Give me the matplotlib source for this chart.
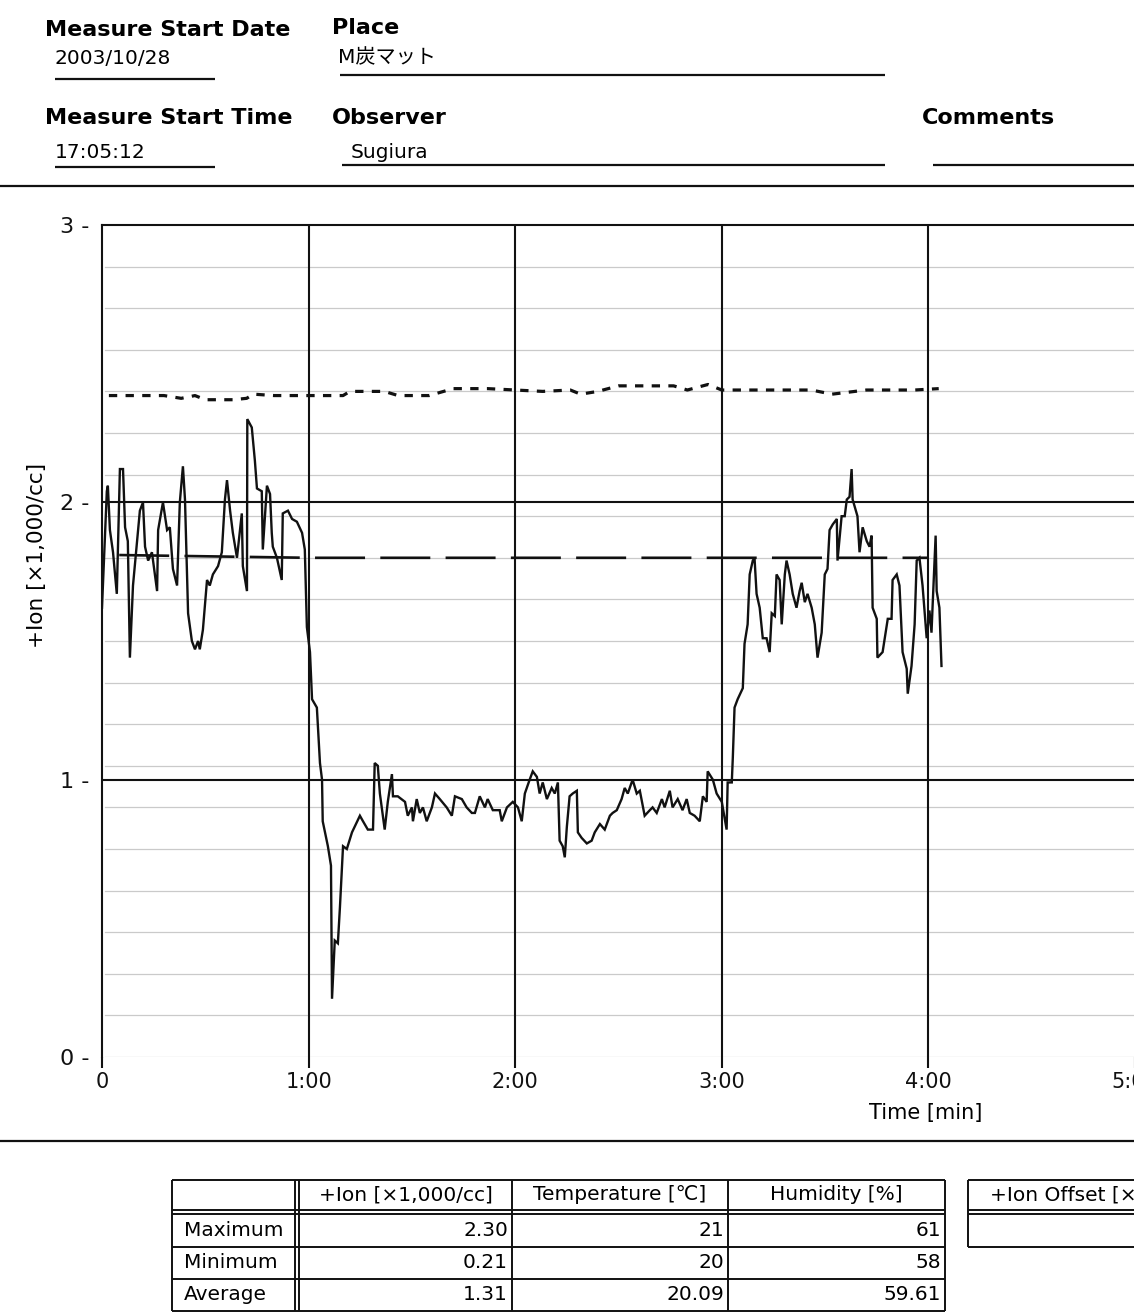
import matplotlib
matplotlib.use("Agg")
import matplotlib.pyplot as plt
import numpy as np

W, H = 1134, 1313

# +Ion trace: time [s], value [x1,000/cc]
ion_t = [
    0.0, 1.4, 1.7, 2.3, 3.2, 4.3, 5.2, 6.1, 6.7, 7.5,
    8.1, 9.0, 10.2, 11.0, 11.9, 12.5, 13.4, 14.5, 16.0, 16.3,
    17.7, 18.9, 19.7, 20.6, 21.8, 22.6, 23.5, 24.1, 25.0, 26.1,
    27.0, 27.9, 28.4, 29.3, 30.5, 31.3, 32.2, 33.7, 34.8, 35.7,
    36.3, 37.2, 38.0, 39.2, 40.6, 40.9, 42.1, 42.2, 43.5, 44.4,
    45.0, 46.4, 46.7, 47.9, 48.8, 49.3, 49.6, 50.8, 52.2, 52.5,
    54.0, 55.2, 56.6, 58.1, 58.9, 59.5, 60.4, 61.0, 62.4, 63.3,
    63.9, 64.1, 65.6, 66.5, 66.8, 67.6, 68.5, 69.1, 70.0, 71.1,
    72.6, 74.9, 75.8, 77.2, 78.7, 79.2, 80.1, 80.7, 82.1, 83.0,
    84.2, 84.5, 85.9, 88.0, 88.8, 90.0, 90.3, 91.4, 92.3, 93.2,
    94.3, 95.8, 96.7, 98.1, 100.1, 101.6, 102.5, 104.5, 105.9, 107.4,
    108.3, 109.7, 111.2, 112.0, 113.5, 115.5, 116.1, 117.6, 119.3, 120.8,
    121.9, 122.8, 124.2, 125.1, 126.3, 127.1, 128.0, 129.2, 130.6, 131.5,
    132.4, 132.9, 133.8, 134.4, 135.0, 135.8, 136.7, 137.9, 138.2, 139.3,
    140.8, 142.2, 143.1, 144.6, 146.0, 147.5, 148.3, 149.5, 150.9, 151.8,
    152.7, 154.1, 155.3, 156.2, 157.6, 159.1, 159.9, 161.1, 162.6, 163.4,
    164.9, 165.7, 167.2, 168.6, 169.8, 170.7, 172.1, 173.6, 174.5, 175.6,
    175.9, 177.4, 178.5, 180.0, 181.4, 181.7, 182.9, 183.2, 183.7, 184.6,
    186.1, 186.6, 187.5, 188.1, 189.0, 189.5, 190.1, 191.0, 191.9, 193.0,
    193.9, 194.5, 195.4, 195.9, 196.8, 197.4, 198.3, 198.8, 199.7, 200.6,
    201.7, 202.6, 203.2, 204.1, 204.9, 206.1, 207.0, 207.8, 209.0, 209.9,
    210.7, 211.3, 212.2, 213.4, 213.6, 214.8, 215.7, 216.3, 217.1, 217.7,
    218.0, 219.4, 220.0, 220.9, 222.1, 222.9, 223.5, 223.8, 225.0, 225.2,
    226.7, 228.2, 229.3, 229.6, 230.8, 231.6, 232.5, 233.7, 234.0, 235.1,
    236.0, 236.6, 237.4, 238.3, 239.5, 240.3, 240.9, 241.2, 242.1, 242.4,
    243.2, 243.8,
]
ion_v = [
    1.62, 2.04, 2.06, 1.90, 1.82, 1.67, 2.12, 2.12, 1.91, 1.86,
    1.44, 1.70, 1.86, 1.97, 2.00, 1.84, 1.79, 1.82, 1.68, 1.90,
    2.00, 1.90, 1.91, 1.76, 1.70, 2.00, 2.13, 2.01, 1.60, 1.50,
    1.47, 1.50, 1.47, 1.54, 1.72, 1.70, 1.74, 1.77, 1.82, 2.01,
    2.08, 1.97, 1.89, 1.80, 1.96, 1.77, 1.68, 2.30, 2.27, 2.15,
    2.05, 2.04, 1.83, 2.06, 2.03, 1.89, 1.84, 1.80, 1.72, 1.96,
    1.97, 1.94, 1.93, 1.89, 1.83, 1.55, 1.46, 1.29, 1.26, 1.06,
    1.00, 0.85, 0.76, 0.69, 0.21, 0.42, 0.41, 0.54, 0.76, 0.75,
    0.81, 0.87, 0.85, 0.82, 0.82, 1.06, 1.05, 0.95, 0.82, 0.92,
    1.02, 0.94, 0.94, 0.92, 0.87, 0.90, 0.85, 0.93, 0.88, 0.90,
    0.85, 0.90, 0.95, 0.93, 0.90, 0.87, 0.94, 0.93, 0.90, 0.88,
    0.88, 0.94, 0.90, 0.93, 0.89, 0.89, 0.85, 0.90, 0.92, 0.90,
    0.85, 0.95, 1.00, 1.03, 1.01, 0.95, 0.99, 0.93, 0.97, 0.95,
    0.99, 0.78, 0.76, 0.72, 0.83, 0.94, 0.95, 0.96, 0.81, 0.79,
    0.77, 0.78, 0.81, 0.84, 0.82, 0.87, 0.88, 0.89, 0.93, 0.97,
    0.95, 1.00, 0.95, 0.96, 0.87, 0.89, 0.90, 0.88, 0.93, 0.90,
    0.96, 0.90, 0.93, 0.89, 0.93, 0.88, 0.87, 0.85, 0.94, 0.92,
    1.03, 1.00, 0.95, 0.92, 0.82, 0.99, 0.99, 1.08, 1.26, 1.29,
    1.33, 1.49, 1.56, 1.74, 1.79, 1.80, 1.67, 1.62, 1.51, 1.51,
    1.46, 1.60, 1.59, 1.74, 1.72, 1.56, 1.74, 1.79, 1.74, 1.67,
    1.62, 1.68, 1.71, 1.64, 1.67, 1.62, 1.56, 1.44, 1.53, 1.74,
    1.76, 1.90, 1.92, 1.94, 1.79, 1.95, 1.95, 2.01, 2.02, 2.12,
    2.01, 1.95, 1.82, 1.91, 1.86, 1.84, 1.88, 1.62, 1.58, 1.44,
    1.46, 1.58, 1.58, 1.72, 1.74, 1.70, 1.46, 1.40, 1.31, 1.41,
    1.56, 1.79, 1.80, 1.70, 1.51, 1.61, 1.53, 1.62, 1.88, 1.68,
    1.62, 1.41,
]

# short-dashed trace near the top
upper_t = [2, 10, 18, 23, 27, 30, 34, 38, 42, 44,
           50, 58, 64, 70, 72, 78, 82, 86, 95, 102,
           112, 120, 128, 136, 139, 144, 150, 160, 166, 170,
           176, 180, 192, 206, 212, 222, 236, 243]
upper_v = [2.385, 2.385, 2.385, 2.375, 2.385, 2.37, 2.37, 2.37, 2.375, 2.39,
           2.385, 2.385, 2.385, 2.385, 2.40, 2.40, 2.40, 2.385, 2.385, 2.41,
           2.41, 2.405, 2.40, 2.405, 2.39, 2.40, 2.42, 2.42, 2.42, 2.405,
           2.425, 2.405, 2.405, 2.405, 2.39, 2.405, 2.405, 2.41]

# long-dashed trace
lower_t = [5, 60, 120, 180, 240]
lower_v = [1.81, 1.80, 1.80, 1.80, 1.80]

x_ticks = [0, 1, 2, 3, 4, 5]
x_tick_labels = ["0", "1:00", "2:00", "3:00", "4:00", "5:00"]
y_ticks = [0, 1, 2, 3]

header_labels = ["Measure Start Date", "Place", "Measure Start Time", "Observer", "Comments"]
header_values = ["2003/10/28", "M炭マット", "17:05:12", "Sugiura"]

row_labels = ["Maximum", "Minimum", "Average"]
col_labels = ["+Ion [×1,000/cc]", "Temperature [℃]", "Humidity [%]"]
ion_stats = ["2.30", "0.21", "1.31"]
temp_stats = ["21", "20", "20.09"]
hum_stats = ["61", "58", "59.61"]
offset_label = "+Ion Offset [×1,000/cc]"

SANS = ["DejaVu Sans"]
JP = ["DejaVu Sans", "Noto Sans CJK JP"]

plt.rcParams["lines.scale_dashes"] = False

fig = plt.figure(figsize=(W / 100, H / 100), dpi=100)
fig.patch.set_facecolor("white")

# page layer in pixel coordinates (header, separators, table)
pg = fig.add_axes([0, 0, 1, 1], zorder=0)
pg.set_xlim(0, W)
pg.set_ylim(H, 0)
pg.axis("off")


def hline(x0, x1, y, lw=1.6):
    pg.plot([x0, x1], [y, y], color="#111111", lw=lw, solid_capstyle="butt")


def vline(x, y0, y1, lw=1.6):
    pg.plot([x, x], [y0, y1], color="#111111", lw=lw, solid_capstyle="butt")


# header block
bold = dict(fontsize=16, fontweight="bold", family="DejaVu Sans", va="center", ha="left")
pg.text(45, 30, header_labels[0], **bold)
pg.text(332, 28, header_labels[1], **bold)
pg.text(45, 118, header_labels[2], **bold)
pg.text(332, 118, header_labels[3], **bold)
pg.text(922, 118, header_labels[4], **bold)

val = dict(fontsize=14.5, family=JP, va="center", ha="left")
pg.text(55, 59, header_values[0], **val)
pg.text(338, 58, header_values[1], **val)
pg.text(55, 152, header_values[2], **val)
pg.text(351, 152, header_values[3], **val)

hline(55, 215, 79)
hline(340, 885, 75)
hline(55, 215, 167)
hline(342, 885, 165)
hline(933, W, 165)
hline(0, W, 186)
hline(0, W, 1141)

# chart
ax = fig.add_axes([102 / W, (H - 1057) / H, 1033 / W, (1057 - 225) / H], zorder=1)
ax.patch.set_alpha(0)
ax.set_xlim(0, 5)
ax.set_ylim(0, 3)

for lvl in np.arange(0, 3.0, 0.15):
    ax.axhline(lvl, color="#cacaca", lw=0.9, xmin=0.003, zorder=1)
for lvl in [1, 2]:
    ax.axhline(lvl, color="#111111", lw=1.5, zorder=2)
for xm in [1, 2, 3, 4]:
    ax.axvline(xm, color="#111111", lw=1.5, zorder=2)

ax.plot(np.array(upper_t) / 60, upper_v, color="#111111", lw=2.3,
        dashes=(6, 6), zorder=3)
ax.plot(np.array(lower_t) / 60, lower_v, color="#111111", lw=1.9,
        dashes=(36, 11), zorder=3)
ax.plot(np.array(ion_t) / 60, ion_v, color="#111111", lw=1.7,
        solid_joinstyle="miter", zorder=4)

for side in ["right", "bottom"]:
    ax.spines[side].set_visible(False)
for side in ["left", "top"]:
    ax.spines[side].set_linewidth(1.5)
    ax.spines[side].set_color("#111111")

ax.set_xticks(x_ticks)
ax.set_xticklabels(x_tick_labels, family=SANS, fontsize=15)
ax.tick_params(axis="x", length=8, width=1.5, direction="out", pad=3, colors="#111111")
ax.set_yticks(y_ticks)
ax.set_yticklabels([f"{v} -" for v in y_ticks], family=SANS, fontsize=16)
ax.tick_params(axis="y", length=0, pad=9, colors="#111111")

pg.text(37, 555, "+Ion [×1,000/cc]", rotation=90, fontsize=15.5,
        family=SANS, ha="center", va="center")
pg.text(926, 1113, "Time [min]", fontsize=15, family=SANS, ha="center", va="center")

# statistics table
tx = [172, 295, 299, 512, 728, 945]
ty = [1180, 1210, 1214, 1247, 1279, 1311]
for y in ty:
    hline(tx[0], tx[-1], y, lw=1.4)
for x in tx:
    vline(x, ty[0], ty[-1], lw=1.4)

cell = dict(fontsize=14.5, family=JP, va="center")
col_left = [299, 512, 728]
col_right = [512, 728, 945]
for i, lab in enumerate(col_labels):
    pg.text((col_left[i] + col_right[i]) / 2, 1195, lab, ha="center", **cell)

row_mid = [1231, 1263, 1295]
for r, lab in enumerate(row_labels):
    pg.text(184, row_mid[r], lab, ha="left", **cell)
    for c, col in enumerate([ion_stats, temp_stats, hum_stats]):
        pg.text(col_right[c] - 4, row_mid[r], col[r], ha="right", **cell)

# offset table (runs past the page edge, as on the sheet)
for y in [1180, 1210, 1214, 1247]:
    hline(968, W, y, lw=1.4)
vline(968, 1180, 1247, lw=1.4)
pg.text(990, 1195, offset_label, ha="left", **cell)

fig.savefig("out.png", dpi=100, facecolor="white")
